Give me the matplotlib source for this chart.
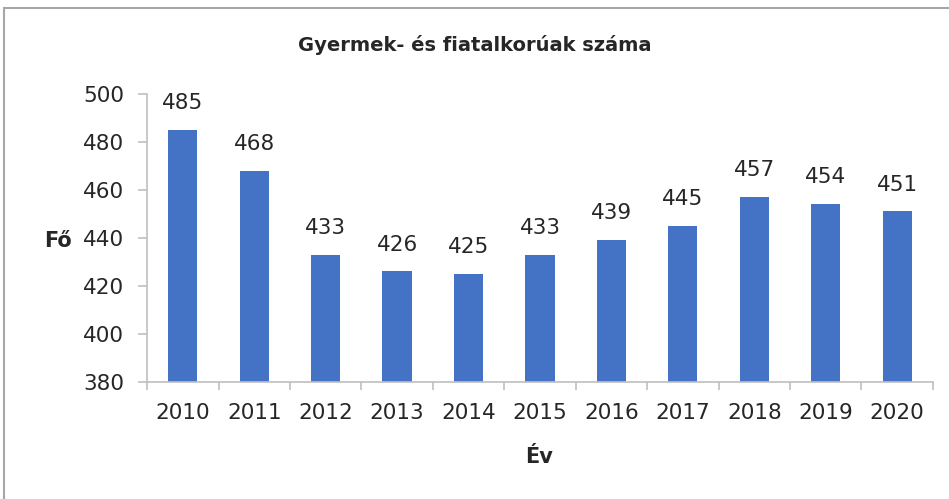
import matplotlib
matplotlib.use('Agg')
import matplotlib.pyplot as plt
from matplotlib.patches import Rectangle
import numpy as np

# data
years = ["2010", "2011", "2012", "2013", "2014", "2015",
         "2016", "2017", "2018", "2019", "2020"]
counts = [485, 468, 433, 426, 425, 433, 439, 445, 457, 454, 451]
y_ticks = [380, 400, 420, 440, 460, 480, 500]

BAR = '#4472C4'
AXIS = '#BFBFBF'
TEXT = '#262626'

plt.rcParams['font.family'] = ['DejaVu Sans']

fig = plt.figure(figsize=(9.49, 4.99), dpi=100)
fig.patch.set_facecolor('white')
ax = fig.add_axes([0.155, 0.235, 0.828, 0.577])

x = np.arange(len(years))
ax.bar(x, counts, width=0.41, color=BAR)

# value labels above the bars
for xi, v in zip(x, counts):
    ax.text(xi, v + 7, str(v), ha='center', va='bottom', fontsize=15.5, color=TEXT)

ax.set_ylim(380, 500)
ax.set_yticks(y_ticks)
ax.set_xlim(-0.5, len(years) - 0.5)
ax.set_xticks(x)
ax.set_xticklabels(years)
ax.set_xticks(np.arange(-0.5, len(years)), minor=True)

ax.tick_params(axis='y', labelsize=15.5, labelcolor=TEXT, color=AXIS,
               length=6.5, width=1.2, pad=10)
ax.tick_params(axis='x', which='major', labelsize=15.5, labelcolor=TEXT,
               length=0, pad=15)
ax.tick_params(axis='x', which='minor', length=6, width=1.2, color=AXIS)

for s in ['top', 'right']:
    ax.spines[s].set_visible(False)
for s in ['left', 'bottom']:
    ax.spines[s].set_color(AXIS)
    ax.spines[s].set_linewidth(1.2)

fig.text(0.5, 0.91, "Gyermek- és fiatalkorúak száma", ha='center', va='center',
         fontsize=14, fontweight='bold', color=TEXT)
fig.text(0.0612, 0.518, "Fő", ha='center', va='center', fontsize=15,
         fontweight='bold', color=TEXT)
fig.text(0.568, 0.085, "Év", ha='center', va='center', fontsize=15,
         fontweight='bold', color=TEXT)

# chart border
fig.patches.append(Rectangle((0.004, -0.01), 1.1, 0.994, transform=fig.transFigure,
                             fill=False, edgecolor='#A6A6A6', linewidth=1.5))

fig.savefig('out.png', dpi=100, facecolor='white')
